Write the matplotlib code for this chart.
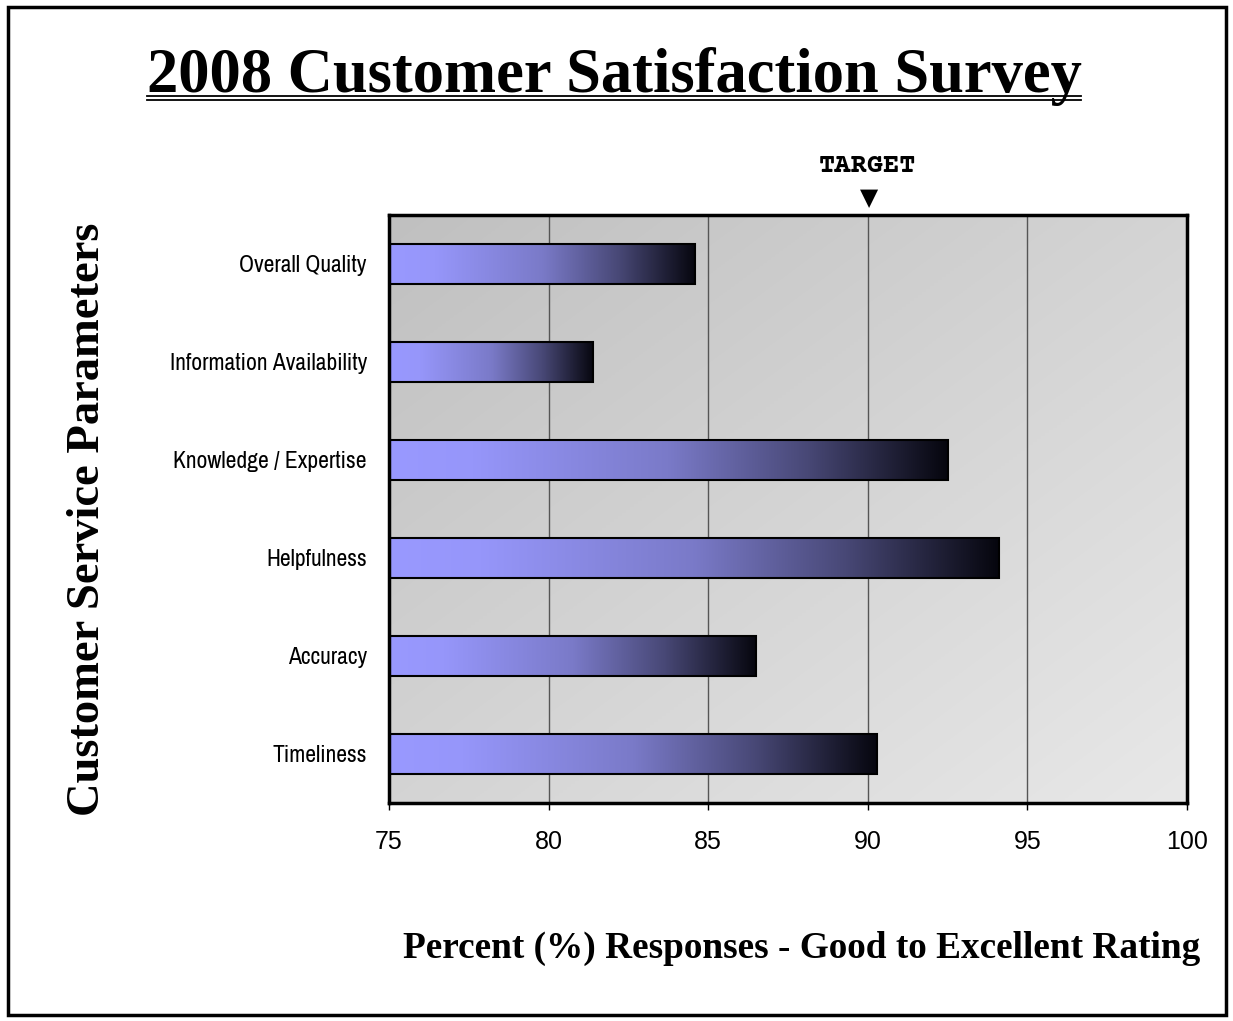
import numpy as np
import matplotlib
matplotlib.use("Agg")
import matplotlib.pyplot as plt
from matplotlib.patches import Rectangle
from matplotlib.colors import LinearSegmentedColormap
from matplotlib.lines import Line2D

categories = ["Overall Quality", "Information Availability", "Knowledge / Expertise",
              "Helpfulness", "Accuracy", "Timeliness"]
values = [84.6, 81.4, 92.5, 94.1, 86.5, 90.3]
target = 90
xticks = [75, 80, 85, 90, 95, 100]

SERIF = ["Liberation Serif", "DejaVu Serif"]
W, H = 1233, 1021
fig = plt.figure(figsize=(W / 100, H / 100), dpi=100)
ax = fig.add_axes([389 / W, 1 - 803 / H, (1187 - 389) / W, (803 - 215) / H])

ax.set_xlim(75, 100)
ax.set_ylim(len(categories) - 0.5, -0.5)

# background gradient (diagonal)
gx, gy = np.meshgrid(np.linspace(0, 1, 200), np.linspace(0, 1, 200))
g = (gx + gy) / 2
bg_cmap = LinearSegmentedColormap.from_list("bg", ["#c0c0c0", "#e8e8e8"])
ax.imshow(g, extent=(75, 100, len(categories) - 0.5, -0.5), cmap=bg_cmap,
          aspect="auto", zorder=0, interpolation="bilinear", vmin=0, vmax=1)

for xv in xticks[1:-1]:
    ax.axvline(xv, color="#555555", lw=1.0, zorder=1)

bar_cmap = LinearSegmentedColormap.from_list(
    "bar", [(0.0, (153/255, 153/255, 1.0)), (0.15, (150/255, 150/255, 250/255)),
            (0.5, (122/255, 122/255, 200/255)), (0.75, (72/255, 72/255, 118/255)),
            (1.0, (6/255, 6/255, 14/255))])
grad = np.linspace(0, 1, 256).reshape(1, -1)
bh = 0.4
bars = ax.barh(range(len(categories)), [v - 75 for v in values], left=75, height=bh,
               facecolor="none", edgecolor="black", lw=1.5, zorder=3)
for i, (b, v) in enumerate(zip(bars, values)):
    im = ax.imshow(grad, extent=(75, v, i + bh / 2, i - bh / 2), cmap=bar_cmap,
                   aspect="auto", zorder=2, interpolation="bilinear")
    im.set_clip_path(b)

ax.set_xticks(xticks)
ax.set_xticklabels([str(t) for t in xticks], fontsize=18, family=["Liberation Sans", "DejaVu Sans"])
ax.set_yticks(range(len(categories)))
ax.set_yticklabels(categories, fontsize=17, family=["Archivo Narrow", "Liberation Sans", "DejaVu Sans"])
ax.tick_params(axis="y", length=0, pad=16)
ax.tick_params(axis="x", length=5, width=1, direction="out", pad=14.5)
for s in ax.spines.values():
    s.set_linewidth(2.5)
    s.set_zorder(5)

# target marker
fig.text(868 / W, 1 - 172 / H, "TARGET", ha="center", va="baseline",
         fontsize=19.5, fontweight="bold", family=["Courier Prime", "Liberation Mono", "DejaVu Sans Mono"])
fig.text(869 / W, 1 - 198 / H, "\u25bc", ha="center", va="center", fontsize=17,
         family=["DejaVu Sans"])

# titles
t = fig.text(614 / W, 1 - 92 / H, "2008 Customer Satisfaction Survey", ha="center", va="baseline",
             fontsize=45, fontweight="bold", family=SERIF)
fig.text(88 / W, 1 - 519 / H, "Customer Service Parameters", ha="center", va="center",
         rotation=90, fontsize=33.5, fontweight="bold", family=SERIF)
fig.text(1200 / W, 1 - 958 / H, "Percent (%) Responses - Good to Excellent Rating", ha="right",
         va="baseline", fontsize=26.8, fontweight="bold", family=SERIF)

fig.canvas.draw()
bb = t.get_window_extent(fig.canvas.get_renderer())
for uy_px in (96, 100):
    uy = 1 - uy_px / H
    fig.add_artist(Line2D([bb.x0 / W, bb.x1 / W], [uy, uy], color="black", lw=1.3,
                          transform=fig.transFigure))

fig.add_artist(Rectangle((8 / W, 6 / H), (1226 - 8) / W, (1014 - 6) / H, fill=False,
                         lw=2.5, edgecolor="black", transform=fig.transFigure))

fig.savefig("out.png", dpi=100)
